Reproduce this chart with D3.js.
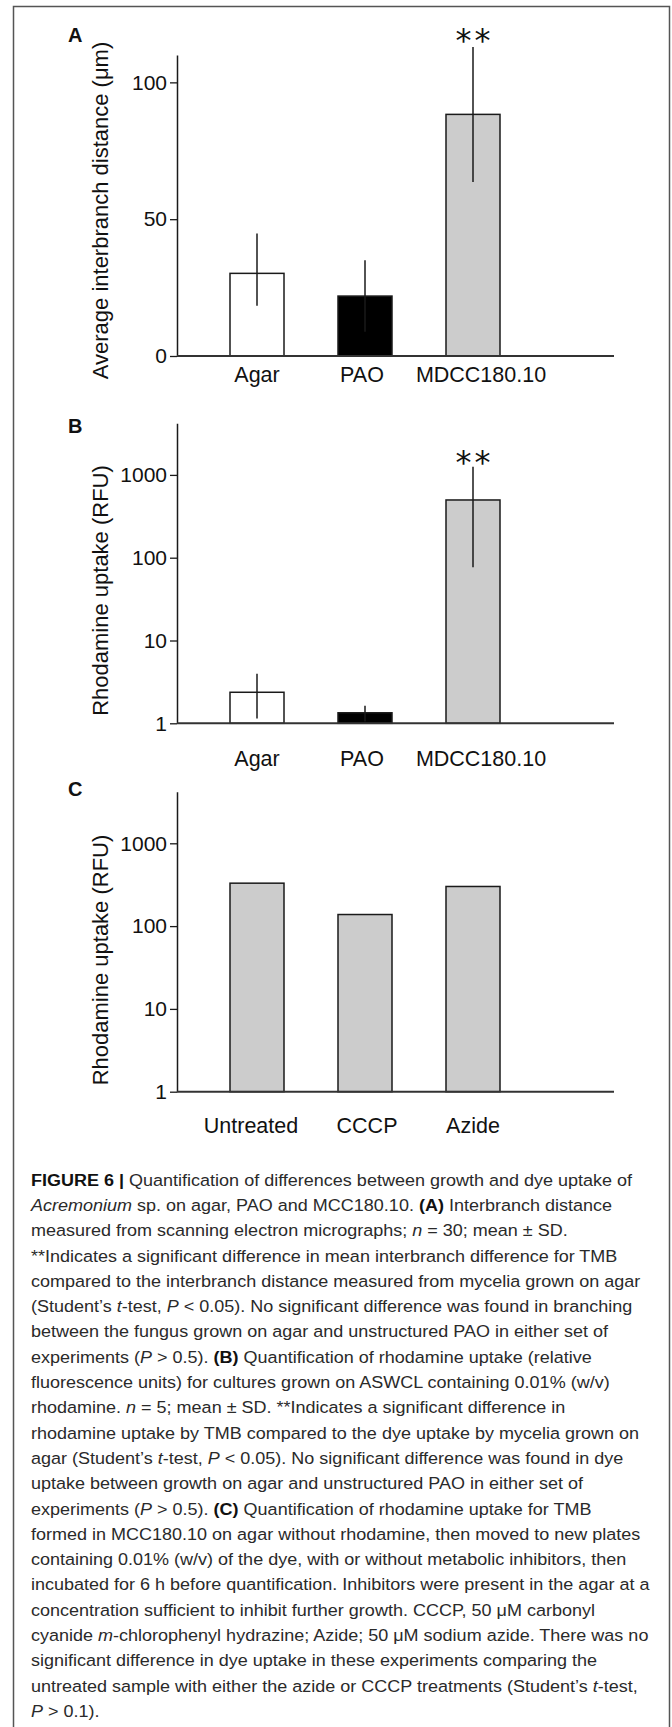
<!DOCTYPE html>
<html><head><meta charset="utf-8">
<script src="https://cdn.jsdelivr.net/npm/d3@7"></script>
<style>body{margin:0;background:#fff}svg{display:block}text{white-space:pre}</style>
</head><body>
<script>
// ---------- data ----------
const groupsAB = ["Agar", "PAO", "MDCC180.10"];
const distMean = [30.2, 21.9, 88.3];
const distLow  = [18.4, 8.9, 63.6];
const distHigh = [44.8, 35.0, 112.9];
const distTicks = [0, 50, 100];
const distAxisMax = 110;
const distSig = ["", "", "**"];

const rhoMean = [2.37, 1.34, 498];
const rhoLow  = [1.14, 1.05, 76.6];
const rhoHigh = [3.97, 1.63, 1256];
const rhoSig = ["", "", "**"];
const logTicks = [1, 10, 100, 1000];
const logAxisMax = 4200;

const groupsC = ["Untreated", "CCCP", "Azide"];
const inhibMean = [330, 138, 301];

const yTitleA = "Average interbranch distance (μm)";
const yTitleBC = "Rhodamine uptake (RFU)";
const panelLetters = ["A", "B", "C"];

const captionLines = [
  [["FIGURE 6 | ","b"],["Quantification of differences between growth and dye uptake of",""]],
  [["Acremonium","i"],[" sp. on agar, PAO and MCC180.10. ",""],["(A)","b"],[" Interbranch distance",""]],
  [["measured from scanning electron micrographs; ",""],["n","i"],[" = 30; mean ± SD.",""]],
  [["**Indicates a significant difference in mean interbranch difference for TMB",""]],
  [["compared to the interbranch distance measured from mycelia grown on agar",""]],
  [["(Student’s ",""],["t","i"],["-test, ",""],["P","i"],[" < 0.05). No significant difference was found in branching",""]],
  [["between the fungus grown on agar and unstructured PAO in either set of",""]],
  [["experiments (",""],["P","i"],[" > 0.5). ",""],["(B)","b"],[" Quantification of rhodamine uptake (relative",""]],
  [["fluorescence units) for cultures grown on ASWCL containing 0.01% (w/v)",""]],
  [["rhodamine. ",""],["n","i"],[" = 5; mean ± SD. **Indicates a significant difference in",""]],
  [["rhodamine uptake by TMB compared to the dye uptake by mycelia grown on",""]],
  [["agar (Student’s ",""],["t","i"],["-test, ",""],["P","i"],[" < 0.05). No significant difference was found in dye",""]],
  [["uptake between growth on agar and unstructured PAO in either set of",""]],
  [["experiments (",""],["P","i"],[" > 0.5). ",""],["(C)","b"],[" Quantification of rhodamine uptake for TMB",""]],
  [["formed in MCC180.10 on agar without rhodamine, then moved to new plates",""]],
  [["containing 0.01% (w/v) of the dye, with or without metabolic inhibitors, then",""]],
  [["incubated for 6 h before quantification. Inhibitors were present in the agar at a",""]],
  [["concentration sufficient to inhibit further growth. CCCP, 50 μM carbonyl",""]],
  [["cyanide ",""],["m","i"],["-chlorophenyl hydrazine; Azide; 50 μM sodium azide. There was no",""]],
  [["significant difference in dye uptake in these experiments comparing the",""]],
  [["untreated sample with either the azide or CCCP treatments (Student’s ",""],["t","i"],["-test,",""]],
  [["P","i"],[" > 0.1).",""]]
];

// ---------- style / layout ----------
const W = 672, H = 1727;
const FONT = "'Liberation Sans', Arial, Helvetica, sans-serif";
const fillAB = ["#ffffff", "#000000", "#cccccc"];
const fillC = "#cccccc";
const axisX0 = 177, axisX1 = 614;

const svg = d3.select("body").append("svg").attr("width", W).attr("height", H)
  .style("font-family", FONT);

svg.append("rect").attr("x", 13.5).attr("y", 6.5).attr("width", 656).attr("height", H + 20)
  .attr("fill", "none").attr("stroke", "#555").attr("stroke-width", 1.5);

function drawPanel(cfg) {
  const g = svg.append("g");
  const x = d3.scaleBand().domain(cfg.cats).range([203, 527]).paddingInner(0.5).paddingOuter(0.25);
  const y = cfg.log
    ? d3.scaleLog().domain([1, logAxisMax]).range([cfg.bottom, cfg.top])
    : d3.scaleLinear().domain([0, distAxisMax]).range([cfg.bottom, cfg.top]);
  const base = cfg.log ? 1 : 0;

  // bars
  g.selectAll("rect.bar").data(cfg.means).join("rect").attr("class", "bar")
    .attr("x", (d, i) => x(cfg.cats[i]))
    .attr("width", x.bandwidth())
    .attr("y", d => y(d))
    .attr("height", d => y(base) - y(d))
    .attr("fill", (d, i) => cfg.fills[i])
    .attr("stroke", "#1a1a1a").attr("stroke-width", 1.5);

  // error bars
  if (cfg.lows) {
    g.selectAll("line.err").data(cfg.means).join("line").attr("class", "err")
      .attr("x1", (d, i) => x(cfg.cats[i]) + x.bandwidth() / 2)
      .attr("x2", (d, i) => x(cfg.cats[i]) + x.bandwidth() / 2)
      .attr("y1", (d, i) => y(cfg.lows[i]))
      .attr("y2", (d, i) => y(cfg.highs[i]))
      .attr("stroke", "#1a1a1a").attr("stroke-width", 1.5);
  }
  // significance
  if (cfg.sig) {
    g.selectAll("text.sig").data(cfg.sig).join("text").attr("class", "sig")
      .attr("x", (d, i) => x(cfg.cats[i]) + x.bandwidth() / 2 + 1.5)
      .attr("y", (d, i) => y(cfg.highs[i]) + cfg.sigOffset)
      .attr("text-anchor", "middle")
      .style("font-family", "'DejaVu Sans', sans-serif")
      .style("font-size", "32px").style("letter-spacing", "3px")
      .attr("fill", "#111")
      .text(d => d);
  }

  // y axis
  const ya = g.append("g").attr("transform", `translate(${axisX0},0)`)
    .call(d3.axisLeft(y).tickValues(cfg.ticks).tickSize(7).tickSizeOuter(0).tickPadding(3)
      .tickFormat(d3.format("d")));
  ya.select(".domain").attr("stroke", "#1a1a1a").attr("stroke-width", 1.5);
  ya.selectAll(".tick line").attr("stroke", "#1a1a1a").attr("stroke-width", 1.3);
  ya.selectAll(".tick text").style("font-size", "21px").style("font-family", FONT).attr("fill", "#111");

  // x axis baseline
  g.append("line").attr("x1", axisX0).attr("x2", axisX1)
    .attr("y1", y(base)).attr("y2", y(base))
    .attr("stroke", "#333").attr("stroke-width", 2);
  const xa = g.append("g").attr("transform", `translate(0,${y(base)})`)
    .call(d3.axisBottom(x).tickSize(0).tickPadding(cfg.labelPad));
  xa.select(".domain").remove();
  xa.selectAll(".tick text").style("font-size", "21.5px").style("font-family", FONT).attr("fill", "#111")
    .attr("dx", d => cfg.nudge[d] || 0);

  // y title
  g.append("text")
    .attr("transform", `translate(108,${cfg.titleY}) rotate(-90)`)
    .attr("text-anchor", "middle").style("font-size", "22px").attr("fill", "#111")
    .text(cfg.title);

  // panel letter
  g.append("text").attr("x", 68).attr("y", cfg.letterY)
    .style("font-size", "20px").style("font-weight", "bold").attr("fill", "#111")
    .text(cfg.letter);
}

drawPanel({cats: groupsAB, means: distMean, lows: distLow, highs: distHigh, sig: distSig,
  sigOffset: 3.5, fills: fillAB, ticks: distTicks, log: false, top: 55, bottom: 356,
  labelPad: 11, titleY: 210.5, letterY: 42, letter: panelLetters[0], title: yTitleA,
  nudge: {"MDCC180.10": 8, "PAO": -3}});
drawPanel({cats: groupsAB, means: rhoMean, lows: rhoLow, highs: rhoHigh, sig: rhoSig,
  sigOffset: 6.5, fills: fillAB, ticks: logTicks, log: true, top: 423.3, bottom: 723.3,
  labelPad: 27, titleY: 590.5, letterY: 433, letter: panelLetters[1], title: yTitleBC,
  nudge: {"MDCC180.10": 8, "PAO": -3}});
drawPanel({cats: groupsC, means: inhibMean, fills: [fillC, fillC, fillC], ticks: logTicks, log: true,
  top: 791.7, bottom: 1091.7, labelPad: 25.7, titleY: 960, letterY: 796, letter: panelLetters[2],
  title: yTitleBC, nudge: {"Untreated": -6, "CCCP": 2}});

// caption
const cap = svg.append("g").style("font-size", "17px").attr("fill", "#2a2a2a");
const capText = cap.selectAll("text").data(captionLines).join("text")
  .attr("x", 0).attr("y", (d, i) => 1185.7 + i * 25.3);
capText.each(function (segs) {
  const t = d3.select(this);
  segs.forEach(([s, st]) => {
    t.append("tspan").text(s)
      .style("font-weight", st === "b" ? "bold" : "normal")
      .style("font-style", st === "i" ? "italic" : "normal")
      .attr("fill", st === "b" ? "#111" : null);
  });
});
const refW = capText.nodes()[16].getComputedTextLength();
const sx = 619 / refW;
cap.attr("transform", `translate(31,0) scale(${sx},1)`);
</script>
</body></html>
